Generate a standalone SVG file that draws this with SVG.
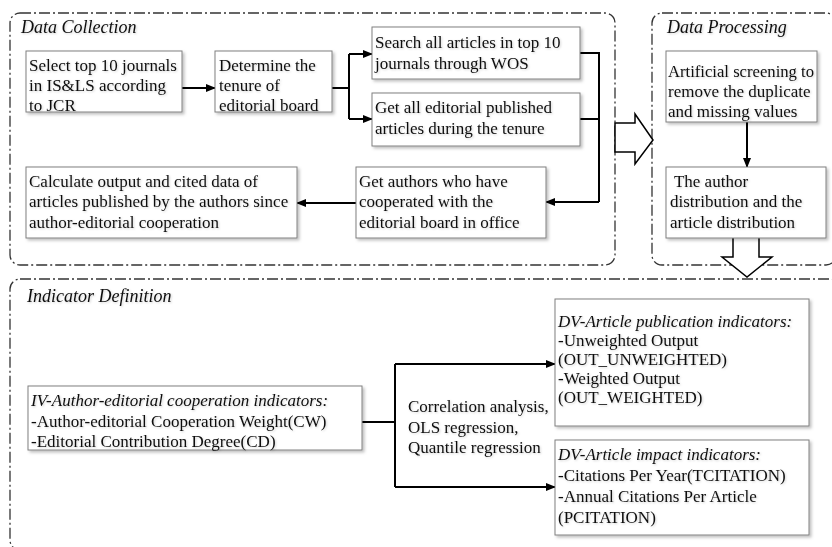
<svg xmlns="http://www.w3.org/2000/svg" width="832" height="547" viewBox="0 0 832 547">
<defs>
<filter id="sh" x="-10%" y="-10%" width="130%" height="140%">
<feDropShadow dx="2" dy="2" stdDeviation="1.5" flood-color="#000" flood-opacity="0.25"/>
</filter>
<filter id="tsh" x="-5%" y="-20%" width="110%" height="150%">
<feDropShadow dx="1" dy="1" stdDeviation="1" flood-color="#000" flood-opacity="0.18"/>
</filter>
<marker id="ah" markerWidth="10" markerHeight="10" refX="9" refY="5" orient="auto" markerUnits="userSpaceOnUse">
<path d="M0,1 L10,5 L0,9 Z" fill="#000"/>
</marker>
</defs>
<style>
.grp{fill:none;stroke:#333;stroke-width:1.3;stroke-dasharray:11 3 2 3;}
.box{fill:#fff;stroke:#808080;stroke-width:1;filter:url(#sh);}
.t{font-family:"Liberation Serif","Times New Roman",serif;font-size:17px;fill:#111;filter:url(#tsh);}
.i{font-style:italic;}
.h{font-size:18px;}
.c{fill:none;stroke:#000;stroke-width:2;}
.ca{fill:none;stroke:#000;stroke-width:2;marker-end:url(#ah);}
.big{fill:#fff;stroke:#000;stroke-width:1.5;}
</style>

<g id="groups">
<rect id="g-collection" class="grp" x="10" y="13" width="605" height="252" rx="10"/>
<rect id="g-processing" class="grp" x="652" y="13" width="184" height="252" rx="10"/>
<rect id="g-indicator" class="grp" x="10" y="279" width="830" height="271" rx="10"/>
<text class="t i h" x="21" y="33">Data Collection</text>
<text class="t i h" x="667" y="33">Data Processing</text>
<text class="t i h" x="27" y="302">Indicator Definition</text>
</g>

<g id="connectors">
<line class="ca" x1="182" y1="88" x2="215" y2="88"/>
<polyline class="c" points="332,88 349,88"/>
<polyline class="c" points="349,54 349,119"/>
<line class="ca" x1="349" y1="54" x2="372" y2="54"/>
<line class="ca" x1="349" y1="119" x2="372" y2="119"/>
<polyline class="c" points="580,53 599,53 599,202"/>
<polyline class="c" points="580,119 599,119"/>
<line class="ca" x1="599" y1="202" x2="546" y2="202"/>
<line class="ca" x1="356" y1="203" x2="297" y2="203"/>
<line class="ca" x1="747" y1="122" x2="747" y2="167"/>
<polyline class="c" points="362,422 395,422"/>
<polyline class="c" points="395,364 395,487"/>
<line class="ca" x1="395" y1="364" x2="555" y2="364"/>
<line class="ca" x1="395" y1="487" x2="555" y2="487"/>
<polygon class="big" points="615,123 635,123 635,114 653,140 635,164 635,152 615,152"/>
<polygon class="big" points="733,237 759,237 759,257 772,257 747,277 722,257 733,257"/>
</g>

<g id="n1">
<rect class="box" x="26" y="51" width="156" height="61"/>
<text class="t" x="29" y="71">Select top 10 journals</text>
<text class="t" x="29" y="91">in IS&amp;LS according</text>
<text class="t" x="29" y="111">to JCR</text>
</g>
<g id="n2">
<rect class="box" x="215" y="51" width="117" height="61"/>
<text class="t" x="219" y="71">Determine the</text>
<text class="t" x="219" y="91">tenure of</text>
<text class="t" x="219" y="111">editorial board</text>
</g>
<g id="n3">
<rect class="box" x="372" y="27" width="208" height="52"/>
<text class="t" x="375" y="48">Search all articles in top 10</text>
<text class="t" x="375" y="69">journals through WOS</text>
</g>
<g id="n4">
<rect class="box" x="372" y="93" width="208" height="53"/>
<text class="t" x="375" y="113">Get all editorial published</text>
<text class="t" x="375" y="134">articles during the tenure</text>
</g>
<g id="n5">
<rect class="box" x="356" y="167" width="190" height="71"/>
<text class="t" x="359" y="187">Get authors who have</text>
<text class="t" x="359" y="207">cooperated with the</text>
<text class="t" x="359" y="228">editorial board in office</text>
</g>
<g id="n6">
<rect class="box" x="26" y="167" width="271" height="71"/>
<text class="t" x="29" y="187">Calculate output and cited data of</text>
<text class="t" x="29" y="207">articles published by the authors since</text>
<text class="t" x="29" y="228">author-editorial cooperation</text>
</g>
<g id="n7">
<rect class="box" x="666" y="51" width="151" height="71"/>
<text class="t" x="668" y="77" textLength="146" lengthAdjust="spacingAndGlyphs">Artificial screening to</text>
<text class="t" x="668" y="97">remove the duplicate</text>
<text class="t" x="668" y="117">and missing values</text>
</g>
<g id="n8">
<rect class="box" x="666" y="167" width="160" height="71"/>
<text class="t" x="670" y="187" xml:space="preserve"> The author</text>
<text class="t" x="670" y="207">distribution and the</text>
<text class="t" x="670" y="228">article distribution</text>
</g>
<g id="n9">
<rect class="box" x="28" y="386" width="334" height="64"/>
<text class="t i" x="31" y="406">IV-Author-editorial cooperation indicators:</text>
<text class="t" x="31" y="427">-Author-editorial Cooperation Weight(CW)</text>
<text class="t" x="31" y="447">-Editorial Contribution Degree(CD)</text>
</g>
<g id="n10">
<text class="t" x="408" y="412">Correlation analysis,</text>
<text class="t" x="408" y="433">OLS regression,</text>
<text class="t" x="408" y="453">Quantile regression</text>
</g>
<g id="n11">
<rect class="box" x="555" y="299" width="254" height="127"/>
<text class="t i" x="558" y="327">DV-Article publication indicators:</text>
<text class="t" x="558" y="346">-Unweighted Output</text>
<text class="t" x="558" y="365">(OUT_UNWEIGHTED)</text>
<text class="t" x="558" y="384">-Weighted Output</text>
<text class="t" x="558" y="403">(OUT_WEIGHTED)</text>
</g>
<g id="n12">
<rect class="box" x="555" y="440" width="254" height="95"/>
<text class="t i" x="558" y="460">DV-Article impact indicators:</text>
<text class="t" x="558" y="481">-Citations Per Year(TCITATION)</text>
<text class="t" x="558" y="502">-Annual Citations Per Article</text>
<text class="t" x="558" y="523">(PCITATION)</text>
</g>
</svg>
